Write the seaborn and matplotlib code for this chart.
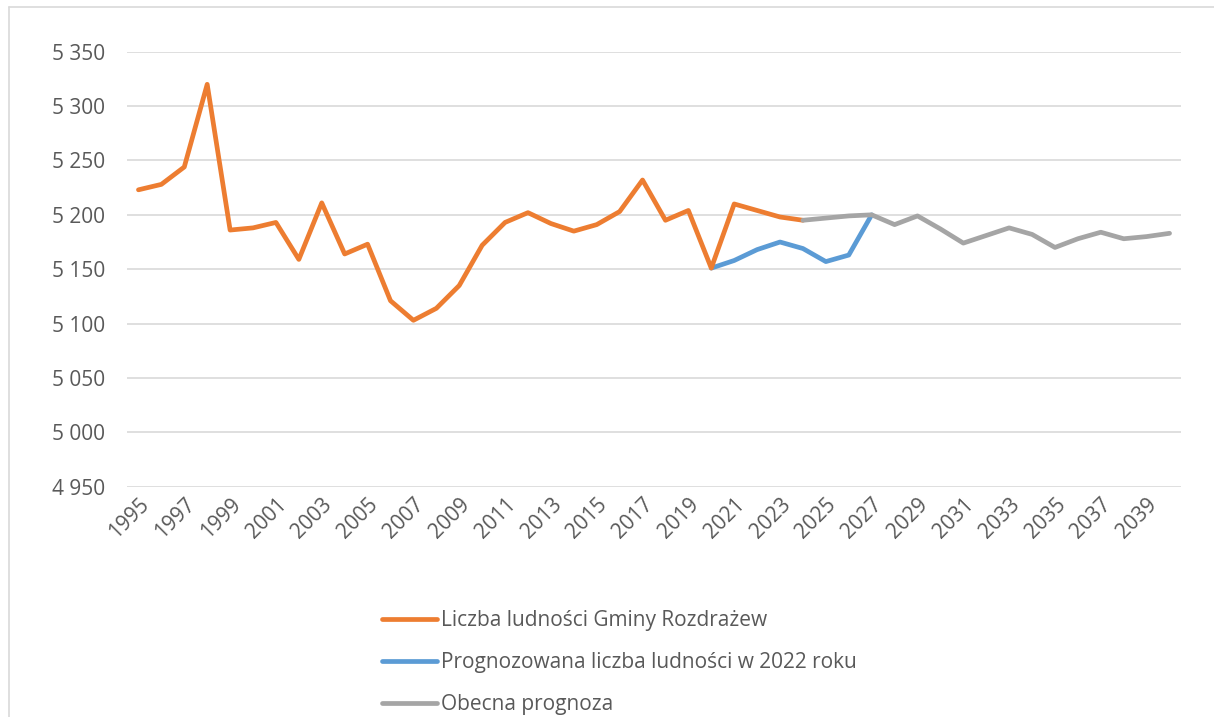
import numpy as np
import pandas as pd
import matplotlib
matplotlib.use("Agg")
import matplotlib.pyplot as plt
import seaborn as sns
from matplotlib.lines import Line2D

years = list(range(1995, 2041))

hist_years = list(range(1995, 2025))
hist_values = [5223, 5228, 5244, 5320, 5186, 5188, 5193, 5159, 5211, 5164,
               5173, 5121, 5103, 5114, 5135, 5172, 5193, 5202, 5192, 5185,
               5191, 5203, 5232, 5195, 5204, 5151, 5210, 5204, 5198, 5195]

prog2022_years = list(range(2020, 2028))
prog2022_values = [5151, 5158, 5168, 5175, 5169, 5157, 5163, 5200]

current_years = list(range(2024, 2041))
current_values = [5195, 5197, 5199, 5200, 5191, 5199, 5187, 5174, 5181, 5188,
                  5182, 5170, 5178, 5184, 5178, 5180, 5183]

labels = ["Liczba ludności Gminy Rozdrażew",
          "Prognozowana liczba ludności w 2022 roku",
          "Obecna prognoza"]
colors = ["#ED7D31", "#5B9BD5", "#A5A5A5"]

yticks = list(range(4950, 5351, 50))

sns.set_theme(style="white")
plt.rcParams['font.family'] = ['Open Sans', 'DejaVu Sans']

fig = plt.figure(figsize=(12.14, 7.17), dpi=100)
ax = fig.add_axes([127 / 1214, 1 - 486.7 / 717, (1181 - 127) / 1214, (486.7 - 51.7) / 717])

df_hist = pd.DataFrame({"x": [y - 1995 for y in hist_years], "y": hist_values})
df_p22 = pd.DataFrame({"x": [y - 1995 for y in prog2022_years], "y": prog2022_values})
df_cur = pd.DataFrame({"x": [y - 1995 for y in current_years], "y": current_values})

lw = 3.4
sns.lineplot(data=df_p22, x="x", y="y", ax=ax, color=colors[1], linewidth=lw, zorder=3)
sns.lineplot(data=df_hist, x="x", y="y", ax=ax, color=colors[0], linewidth=lw, zorder=4)
sns.lineplot(data=df_cur, x="x", y="y", ax=ax, color=colors[2], linewidth=lw, zorder=5)

ax.set_xlim(-0.5, len(years) - 0.5)
ax.set_ylim(4950, 5350)
ax.set_yticks(yticks)
ax.set_yticklabels([f"{v:,}".replace(",", " ") for v in yticks])
ax.set_xticks([i for i, y in enumerate(years) if (y - 1995) % 2 == 0])
ax.set_xticklabels([str(y) for y in years if (y - 1995) % 2 == 0],
                   rotation=45, ha="right", rotation_mode="anchor")
ax.tick_params(axis="y", labelsize=15, colors="#595959", length=0, pad=16)
ax.tick_params(axis="x", labelsize=15, colors="#595959", length=0, pad=5)
ax.grid(axis="y", color="#D9D9D9", linewidth=1.2)
ax.grid(axis="x", visible=False)
for s in ["top", "right", "left", "bottom"]:
    ax.spines[s].set_visible(False)
ax.set_xlabel("")
ax.set_ylabel("")
ax.set_axisbelow(True)

handles = [Line2D([], [], color=c, linewidth=lw, solid_capstyle="round") for c in colors]
fig.legend(handles, labels, loc="upper left", bbox_to_anchor=(374 / 1214, 1 - 602 / 717),
           frameon=False, fontsize=15, labelcolor="#595959", handlelength=2.6,
           handletextpad=0.2, labelspacing=1.0, borderaxespad=0)

# chart border (left & top visible)
fig.add_artist(Line2D([8.5 / 1214, 8.5 / 1214], [0, 1 - 7 / 717], color="#D9D9D9",
                      linewidth=1.2, transform=fig.transFigure))
fig.add_artist(Line2D([8.5 / 1214, 1], [1 - 7 / 717, 1 - 7 / 717], color="#D9D9D9",
                      linewidth=1.2, transform=fig.transFigure))

fig.savefig("out.png", dpi=100)
